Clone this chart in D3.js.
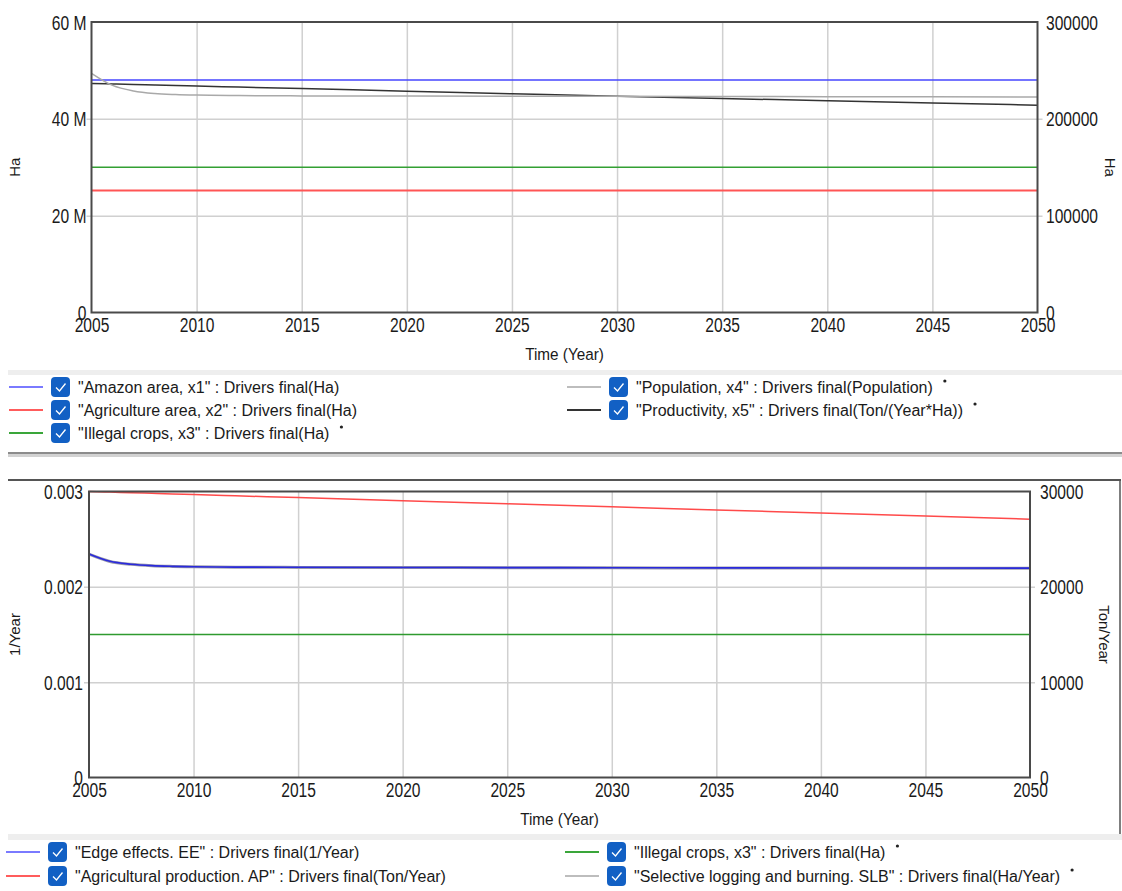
<!DOCTYPE html>
<html>
<head>
<meta charset="utf-8">
<script src="https://cdn.jsdelivr.net/npm/d3@7"></script>
<style>
body { margin: 0; background: #fff; }
text { font-family: "Liberation Sans", Arial, sans-serif; fill: #1a1a1a; }
</style>
</head>
<body>
<svg width="1122" height="891"></svg>
<script>
// ---- data ----
var years = [2005, 2006, 2007, 2008, 2009, 2010, 2012, 2015, 2020, 2025, 2030, 2035, 2040, 2045, 2050];
var yearTicks = [2005, 2010, 2015, 2020, 2025, 2030, 2035, 2040, 2045, 2050];

// top chart (left axis Ha, right axis Ha)
var topLeftTicks = [0, 20e6, 40e6, 60e6];
var topRightTicks = [0, 100000, 200000, 300000];
var amazonArea = [48.0e6, 48.0e6, 48.0e6, 48.0e6, 48.0e6, 48.0e6, 48.0e6, 48.0e6, 48.0e6, 48.0e6, 48.0e6, 48.0e6, 48.0e6, 48.0e6, 48.0e6];
var agricultureArea = [25.2e6, 25.2e6, 25.2e6, 25.2e6, 25.2e6, 25.2e6, 25.2e6, 25.2e6, 25.2e6, 25.2e6, 25.2e6, 25.2e6, 25.2e6, 25.2e6, 25.2e6];
var illegalCrops = [150000, 150000, 150000, 150000, 150000, 150000, 150000, 150000, 150000, 150000, 150000, 150000, 150000, 150000, 150000];
var population = [247000, 234500, 228800, 226200, 225100, 224500, 224000, 223700, 223500, 223400, 223300, 223100, 222900, 222700, 222500];
var productivity = [236500, 236000, 235400, 234900, 234400, 233900, 232800, 231200, 228600, 225900, 223300, 221000, 218700, 216400, 214100];

// bottom chart (left axis 1/Year, right axis Ton/Year)
var botLeftTicks = [0, 0.001, 0.002, 0.003];
var botRightTicks = [0, 10000, 20000, 30000];
var edgeEffects = [0.002345, 0.002268, 0.002237, 0.002222, 0.002215, 0.002211, 0.002207, 0.002205, 0.002203, 0.002202, 0.002200, 0.002199, 0.002198, 0.002197, 0.002196];
var agriProduction = [30000, 29940, 29870, 29810, 29740, 29680, 29550, 29360, 29030, 28710, 28390, 28070, 27740, 27420, 27100];
var illegalCrops2 = [15000, 15000, 15000, 15000, 15000, 15000, 15000, 15000, 15000, 15000, 15000, 15000, 15000, 15000, 15000];
var selectiveLogging = [23420, 22660, 22360, 22210, 22140, 22100, 22060, 22040, 22020, 22010, 21990, 21980, 21970, 21960, 21950];

var topLegend = ['"Amazon area, x1" : Drivers final(Ha)', '"Agriculture area, x2" : Drivers final(Ha)', '"Illegal crops, x3" : Drivers final(Ha)',
                 '"Population, x4" : Drivers final(Population)', '"Productivity, x5" : Drivers final(Ton/(Year*Ha))'];
var botLegend = ['"Edge effects. EE" : Drivers final(1/Year)', '"Agricultural production. AP" : Drivers final(Ton/Year)',
                 '"Illegal crops, x3" : Drivers final(Ha)', '"Selective logging and burning. SLB" : Drivers final(Ha/Year)'];

var svg = d3.select("svg");

// ---- panel decorations ----
svg.append("rect").attr("x", 8).attr("y", 370).attr("width", 1114).attr("height", 5).attr("fill", "#eeeeee");
svg.append("rect").attr("x", 8).attr("y", 452).attr("width", 1114).attr("height", 2).attr("fill", "#8c8c8c");
svg.append("rect").attr("x", 8).attr("y", 454).attr("width", 1114).attr("height", 3).attr("fill", "#d2d2d2");
svg.append("line").attr("x1", 8).attr("x2", 1121).attr("y1", 480).attr("y2", 480).attr("stroke", "#555").attr("stroke-width", 2);
svg.append("line").attr("x1", 1120).attr("x2", 1120).attr("y1", 480).attr("y2", 834).attr("stroke", "#555").attr("stroke-width", 1.5);
svg.append("rect").attr("x", 8).attr("y", 834).attr("width", 1114).attr("height", 6).attr("fill", "#eeeeee");

var SX = 0.8; // tick font is narrow

function drawPanel(p) {
  var x = d3.scaleLinear().domain([2005, 2050]).range([p.left, p.right]);
  var yL = d3.scaleLinear().domain(p.leftDomain).range([p.bottom, p.top]);
  var yR = d3.scaleLinear().domain(p.rightDomain).range([p.bottom, p.top]);
  var g = svg.append("g");

  // grid
  g.append("g")
    .attr("transform", "translate(0," + p.bottom + ")")
    .call(d3.axisBottom(x).tickValues(yearTicks.slice(1, -1)).tickSize(-(p.bottom - p.top)).tickFormat(""))
    .call(s => { s.select(".domain").remove(); s.selectAll("line").attr("stroke", "#d0d0d0").attr("stroke-width", 1.5); });
  g.append("g")
    .attr("transform", "translate(" + (p.left - 5) + ",0)")
    .call(d3.axisRight(yL).tickValues(p.leftTicks.slice(1, -1)).tickSize(p.right - p.left + 10).tickFormat(""))
    .call(s => { s.select(".domain").remove(); s.selectAll("line").attr("stroke", "#d0d0d0").attr("stroke-width", 1.5); });

  // series
  var line = d3.line().curve(d3.curveMonotoneX);
  p.series.forEach(function (s) {
    var y = s.axis === "right" ? yR : yL;
    g.append("path")
      .attr("d", line.x((d, i) => x(years[i])).y(d => y(d))(s.values))
      .attr("fill", "none")
      .attr("stroke", s.color)
      .attr("stroke-width", s.width);
  });

  // frame
  g.append("rect").attr("x", p.left).attr("y", p.top).attr("width", p.right - p.left).attr("height", p.bottom - p.top)
    .attr("fill", "none").attr("stroke", "#4a4a4a").attr("stroke-width", 2);

  // tick labels
  g.append("g")
    .attr("transform", "translate(" + p.left + ",0)")
    .call(d3.axisLeft(yL).tickValues(p.leftTicks).tickFormat(p.leftFmt).tickSize(0).tickPadding(0))
    .call(s => {
      s.select(".domain").remove();
      s.selectAll("text").attr("font-size", 19.5).attr("x", -p.leftPad / SX).attr("dy", "0.36em")
        .attr("transform", "scale(" + SX + ",1)");
    });
  g.append("g")
    .attr("transform", "translate(" + p.right + ",0)")
    .call(d3.axisRight(yR).tickValues(p.rightTicks).tickFormat(d3.format("d")).tickSize(0).tickPadding(0))
    .call(s => {
      s.select(".domain").remove();
      s.selectAll("text").attr("font-size", 19.5).attr("x", p.rightPad / SX).attr("dy", "0.36em")
        .attr("transform", "scale(" + SX + ",1)");
    });
  g.append("g")
    .attr("transform", "translate(0," + p.bottom + ")")
    .call(d3.axisBottom(x).tickValues(yearTicks).tickFormat(d3.format("d")).tickSize(0).tickPadding(0))
    .call(s => {
      s.select(".domain").remove();
      s.selectAll("text").attr("font-size", 19.5).attr("y", 20).attr("dy", null)
        .attr("transform", "scale(" + SX + ",1)");
    });

  // axis titles
  g.append("text").attr("transform", "translate(" + ((p.left + p.right) / 2) + "," + (p.bottom + 47) + ") scale(0.9,1)")
    .attr("text-anchor", "middle").attr("font-size", 17).text("Time (Year)");
  g.append("text").attr("transform", "translate(" + p.leftTitleX + "," + ((p.top + p.bottom) / 2) + ") rotate(-90)")
    .attr("text-anchor", "middle").attr("font-size", 15).text(p.leftTitle);
  g.append("text").attr("transform", "translate(" + p.rightTitleX + "," + ((p.top + p.bottom) / 2) + ") rotate(90)")
    .attr("text-anchor", "middle").attr("font-size", 15).text(p.rightTitle);

  // legend
  var lg = g.append("g").selectAll("g").data(p.legend).join("g")
    .attr("transform", d => "translate(" + d.x + "," + d.y + ")");
  lg.append("line").attr("x1", 0).attr("x2", 34).attr("stroke", d => d.color).attr("stroke-width", 2);
  lg.append("rect").attr("x", 42).attr("y", -10).attr("width", 19).attr("height", 20).attr("rx", 4)
    .attr("fill", "#1260c4");
  lg.append("path").attr("d", "M47,0.5 L50.5,4 L56.5,-3.5").attr("fill", "none").attr("stroke", "#fff").attr("stroke-width", 1.3);
  lg.append("text").attr("x", 69).attr("y", 6).attr("font-size", 16).text(d => d.name)
    .each(function (d) {
      if (!d.star) return;
      var w = this.getComputedTextLength();
      d3.select(this.parentNode).append("circle").attr("cx", 69 + w + 12).attr("cy", -6).attr("r", 1.6).attr("fill", "#222");
    });
}

drawPanel({
  left: 91.5, right: 1037.5, top: 22, bottom: 312.5,
  leftDomain: [0, 60e6], rightDomain: [0, 300000],
  leftTicks: topLeftTicks, rightTicks: topRightTicks,
  leftFmt: d => d === 0 ? "0" : (d / 1e6) + " M",
  leftPad: 5, rightPad: 8.5,
  leftTitle: "Ha", rightTitle: "Ha", leftTitleX: 20, rightTitleX: 1105,
  series: [
    { values: amazonArea, axis: "left", color: "#4646ff", width: 1.5 },
    { values: agricultureArea, axis: "left", color: "#ff5555", width: 2 },
    { values: illegalCrops, axis: "right", color: "#33a033", width: 1.5 },
    { values: productivity, axis: "right", color: "#333333", width: 1.5 },
    { values: population, axis: "right", color: "#a9a9a9", width: 1.5 }
  ],
  legend: [
    { name: topLegend[0], color: "#7a7aff", x: 9, y: 387, star: false },
    { name: topLegend[1], color: "#ff5c5c", x: 9, y: 410, star: false },
    { name: topLegend[2], color: "#3aa63a", x: 9, y: 433, star: true },
    { name: topLegend[3], color: "#bdbdbd", x: 567, y: 387, star: true },
    { name: topLegend[4], color: "#333333", x: 567, y: 410, star: true }
  ]
});

drawPanel({
  left: 89, right: 1030, top: 491.5, bottom: 777.5,
  leftDomain: [0, 0.003], rightDomain: [0, 30000],
  leftTicks: botLeftTicks, rightTicks: botRightTicks,
  leftFmt: d => d === 0 ? "0" : d3.format(".3f")(d),
  leftPad: 6, rightPad: 10,
  leftTitle: "1/Year", rightTitle: "Ton/Year", leftTitleX: 20, rightTitleX: 1099,
  series: [
    { values: selectiveLogging, axis: "right", color: "#9a9aaa", width: 3 },
    { values: edgeEffects, axis: "left", color: "#2a2adc", width: 1.6 },
    { values: agriProduction, axis: "right", color: "#ff4a4a", width: 1.5 },
    { values: illegalCrops2, axis: "right", color: "#2f9a2f", width: 1.5 }
  ],
  legend: [
    { name: botLegend[0], color: "#7a7aff", x: 6, y: 852, star: false },
    { name: botLegend[1], color: "#ff5c5c", x: 6, y: 876, star: false },
    { name: botLegend[2], color: "#3aa63a", x: 565, y: 852, star: true },
    { name: botLegend[3], color: "#bdbdbd", x: 565, y: 876, star: true }
  ]
});
</script>
</body>
</html>
